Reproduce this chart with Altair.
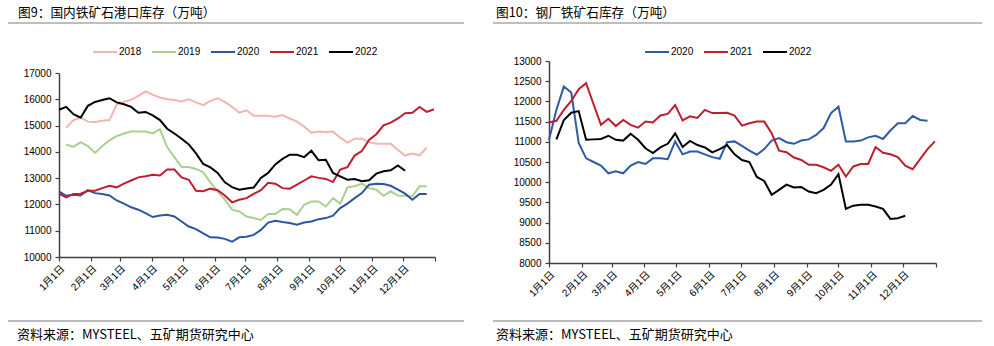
import altair as alt
import pandas as pd

FONT = "Liberation Sans, Noto Sans CJK SC"
CJK = "Noto Sans CJK SC"

MONTH_START_DAYS = [0, 31, 59, 90, 120, 151, 181, 212, 243, 273, 304, 334, 365]

# ---- Figure 9: port inventory (10k tonnes), weekly ----
PORT_SERIES = ["2018", "2019", "2020", "2021", "2022"]
PORT_COLORS = ["#F4B4B4", "#A9D18E", "#2E55A0", "#BE1E2D", "#000000"]
PORT_START_DAY = {"2018": 7, "2019": 7, "2020": 0, "2021": 0, "2022": 0}
port_2018 = [14920, 15210, 15300, 15150, 15140, 15180, 15210, 15800, 15900, 15980, 16130, 16300, 16170,
             16070, 16000, 15970, 15920, 16000, 15880, 15780, 15940, 16040, 15900, 15710, 15490, 15580,
             15370, 15370, 15370, 15340, 15400, 15270, 15150, 14960, 14730, 14770, 14760, 14770, 14540,
             14350, 14500, 14500, 14370, 14310, 14310, 14310, 14070, 13860, 13940, 13870, 14160]
port_2019 = [14280, 14190, 14370, 14220, 13960, 14220, 14440, 14600, 14700, 14770, 14770, 14770, 14700,
             14860, 14180, 13800, 13420, 13420, 13350, 13220, 12840, 12500, 12180, 11800, 11730, 11540,
             11480, 11410, 11640, 11640, 11830, 11820, 11600, 11990, 12110, 12110, 11920, 12240, 12030,
             12650, 12690, 12790, 12620, 12560, 12330, 12500, 12340, 12330, 12310, 12690, 12690]
port_2020 = [12500, 12330, 12370, 12340, 12540, 12430, 12400, 12340, 12150, 12030, 11890, 11800, 11670,
             11520, 11580, 11610, 11540, 11350, 11160, 11060, 10900, 10750, 10740, 10690, 10580, 10750,
             10770, 10840, 11030, 11310, 11380, 11330, 11290, 11230, 11310, 11350, 11440, 11480, 11570,
             11860, 12030, 12240, 12430, 12750, 12790, 12780, 12710, 12560, 12410, 12180, 12400, 12400]
port_2021 = [12410, 12270, 12400, 12410, 12520, 12520, 12620, 12710, 12650, 12790, 12910, 13030, 13070,
             13130, 13100, 13330, 13330, 13030, 12940, 12520, 12500, 12600, 12540, 12340, 12080, 12180,
             12240, 12400, 12540, 12820, 12790, 12620, 12600, 12750, 12910, 13070, 13010, 12970, 12850,
             13330, 13420, 13860, 14030, 14450, 14670, 15010, 15110, 15270, 15470, 15490, 15710, 15520, 15620]
port_2022 = [15600, 15710, 15430, 15300, 15750, 15900, 15970, 16040, 15880, 15810, 15710, 15490, 15520,
             15390, 15210, 14880, 14700, 14500, 14280, 13940, 13540, 13410, 13200, 12840, 12660, 12560,
             12610, 12640, 13010, 13200, 13520, 13730, 13890, 13890, 13800, 14040, 13680, 13700, 13200,
             13070, 12940, 12970, 12880, 12920, 13170, 13260, 13300, 13480, 13280]
PORT_VALUES = {"2018": port_2018, "2019": port_2019, "2020": port_2020, "2021": port_2021, "2022": port_2022}

# ---- Figure 10: steel mill iron ore inventory (10k tonnes), weekly ----
MILL_SERIES = ["2020", "2021", "2022"]
MILL_COLORS = ["#2E5BA8", "#BE1E2D", "#000000"]
MILL_START_DAY = {"2020": 0, "2021": 0, "2022": 7}
mill_2020 = [11050, 11790, 12370, 12220, 10970, 10590, 10500, 10410, 10220, 10270, 10220, 10410, 10500,
             10450, 10590, 10590, 10570, 11010, 10690, 10760, 10760, 10690, 10620, 10580, 10990, 11010,
             10900, 10780, 10680, 10820, 11030, 11090, 10990, 10950, 11030, 11060, 11170, 11340, 11710,
             11870, 11010, 11010, 11030, 11110, 11150, 11070, 11280, 11460, 11460, 11640, 11540, 11520]
mill_2021 = [11480, 11520, 11790, 12010, 12300, 12450, 11930, 11420, 11570, 11390, 11540, 11420, 11350,
             11500, 11480, 11650, 11690, 11910, 11530, 11630, 11590, 11790, 11710, 11710, 11720, 11650,
             11400, 11460, 11500, 11500, 11210, 10780, 10740, 10610, 10550, 10430, 10430, 10370, 10280,
             10430, 10140, 10390, 10450, 10450, 10870, 10730, 10690, 10620, 10410, 10320, 10570, 10820, 11010]
mill_2022 = [11060, 11540, 11720, 11760, 11050, 11060, 11070, 11150, 11050, 11030, 11200, 11050, 10840,
             10720, 10860, 10950, 11210, 10870, 11020, 10920, 10860, 10740, 10820, 10920, 10690, 10550,
             10500, 10130, 10030, 9690, 9810, 9940, 9870, 9880, 9770, 9730, 9810, 9940, 10200, 9340,
             9420, 9440, 9440, 9400, 9340, 9090, 9110, 9170]
MILL_VALUES = {"2020": mill_2020, "2021": mill_2021, "2022": mill_2022}

TITLE_L = "图9：国内铁矿石港口库存（万吨）"
TITLE_R = "图10：钢厂铁矿石库存（万吨）"
SOURCE = "资料来源：MYSTEEL、五矿期货研究中心"


def to_frame(values, starts):
    rows = []
    for s, vals in values.items():
        for i, v in enumerate(vals):
            rows.append({"series": s, "day": starts[s] + 7 * i, "value": v})
    return pd.DataFrame(rows)


label_expr = ("datum.value >= 365 ? '' : (indexof(%s, datum.value) + 1) + '月1日'"
              % str(MONTH_START_DAYS))


def panel(df, series, colors, w, h, ydom, yrange, yvals, leg_x, leg_y, title, geo):
    x = alt.X("day:Q", scale=alt.Scale(domain=[0, 365], nice=False, zero=False),
              axis=alt.Axis(values=MONTH_START_DAYS, labelExpr=label_expr, labelAngle=-45,
                            labelAlign="right", labelBaseline="top", title=None, grid=False,
                            tickSize=4, labelFontSize=10, labelPadding=2, labelFont=FONT,
                            labelOverlap=False))
    y = alt.Y("value:Q", scale=alt.Scale(domain=ydom, range=yrange, nice=False, zero=False),
              axis=alt.Axis(values=yvals, format="d", title=None, grid=False, tickSize=4,
                            labelPadding=4, labelFontSize=10, labelFont=FONT, labelOverlap=False))
    lines = alt.Chart(df).mark_line(strokeWidth=2).encode(
        x=x, y=y,
        color=alt.Color("series:N", scale=alt.Scale(domain=series, range=colors),
                        legend=alt.Legend(orient="none", legendX=leg_x, legendY=leg_y,
                                          direction="horizontal", title=None, symbolType="stroke",
                                          symbolSize=576, symbolStrokeWidth=2, labelFontSize=10,
                                          labelFont=FONT, labelOffset=1, columnPadding=6,
                                          padding=0)),
        order="day:Q",
    )
    base = alt.Chart(pd.DataFrame({"k": [0]}))
    x0, x1, ytop, ybot, tx, ty, sx, sy = geo
    top_rule = base.mark_rule(color="#7f7f7f", strokeWidth=1.2).encode(
        x=alt.value(x0), x2=alt.value(x1), y=alt.value(ytop))
    bot_rule = base.mark_rule(color="#a6a6a6", strokeWidth=1.6).encode(
        x=alt.value(x0), x2=alt.value(x1), y=alt.value(ybot))
    ttl = base.mark_text(align="left", baseline="middle", fontSize=12.7, font=CJK,
                         color="#000").encode(x=alt.value(tx), y=alt.value(ty), text=alt.value(title))
    src = base.mark_text(align="left", baseline="middle", fontSize=13, font=CJK,
                         color="#000").encode(x=alt.value(sx), y=alt.value(sy), text=alt.value(SOURCE))
    return alt.layer(lines, top_rule, bot_rule, ttl, src).properties(width=w, height=h)


left = panel(to_frame(PORT_VALUES, PORT_START_DAY), PORT_SERIES, PORT_COLORS, 376, 196,
             [10000, 17000], [196, 12], list(range(10000, 17001, 1000)), 33, -22, TITLE_L,
             (-51, 405, -38, 260, -41, -48, -42, 274))
right = panel(to_frame(MILL_VALUES, MILL_START_DAY), MILL_SERIES, MILL_COLORS, 387, 202,
              [8000, 13000], [202, 0], list(range(8000, 13001, 500)), 95, -22, TITLE_R,
              (-56, 433, -38, 260, -53, -48, -53, 274))

chart = alt.hconcat(left, right, spacing=27).resolve_scale(
    color="independent"
).resolve_legend(color="independent").properties(
    padding={"left": 7, "top": 7, "right": 0, "bottom": 0}, background="white"
).configure_view(stroke=None).configure_axis(
    domainColor="#404040", tickColor="#404040", labelColor="#000", domainWidth=1.5, tickWidth=1.2
)

chart.save("out.html", embed_options={"renderer": "svg", "actions": False})
